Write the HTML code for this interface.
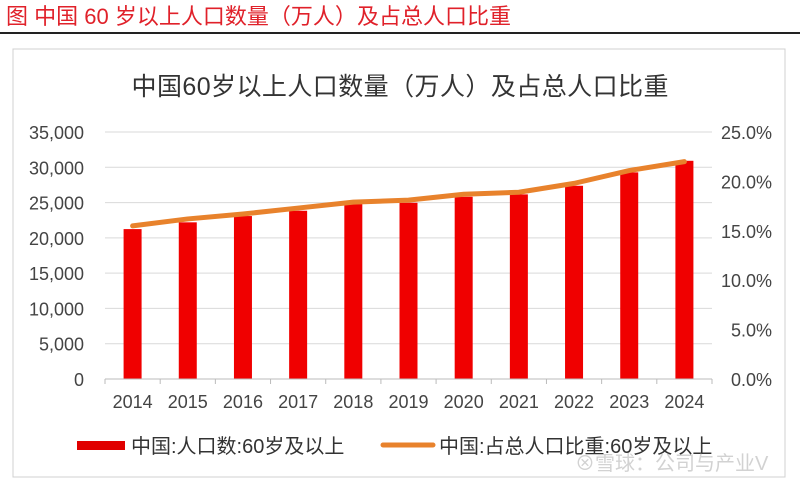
<!DOCTYPE html>
<html><head><meta charset="utf-8">
<style>
body{margin:0;width:800px;height:482px;background:#fff;overflow:hidden;font-family:"Liberation Sans","Noto Sans CJK SC",sans-serif;}
svg text{font-family:"Liberation Sans","Noto Sans CJK SC",sans-serif;}
</style></head><body>
<svg id="c" width="800" height="482" xmlns="http://www.w3.org/2000/svg">
<text x="6" y="24" font-size="22" fill="#e0212a" textLength="505">图  中国 60 岁以上人口数量（万人）及占总人口比重</text>
<line x1="0" y1="33" x2="800" y2="33" stroke="#222" stroke-width="2"/>
<rect x="13" y="49" width="772" height="428" fill="#fff" stroke="#d0d0d0"/>
<text x="400" y="95" font-size="25" fill="#333" text-anchor="middle" textLength="537">中国60岁以上人口数量（万人）及占总人口比重</text>
<g id="grid"></g><g id="bars"></g><g id="line"></g><g id="axes"></g>
<rect x="77" y="441" width="48" height="9" fill="#e00000"/>
<text x="131" y="453" font-size="20" fill="#333">中国:人口数:60岁及以上</text>
<line x1="383" y1="445" x2="433" y2="445" stroke="#e8822c" stroke-width="5" stroke-linecap="round"/>
<text x="439" y="453" font-size="20" fill="#333">中国:占总人口比重:60岁及以上</text>
<text x="575" y="470" font-size="20" fill="#c8c8c8" opacity="0.8">⊗雪球：公司与产业V</text>
</svg>
<script>
const categories=["2014","2015","2016","2017","2018","2019","2020","2021","2022","2023","2024"];
const population=[21240,22200,23090,23840,24790,24970,25820,26160,27380,29280,30920];
const share=[15.5,16.2,16.7,17.3,17.9,18.1,18.7,18.9,19.8,21.1,22.0];
const leftTicks=[0,5000,10000,15000,20000,25000,30000,35000];
const leftLabels=["0","5,000","10,000","15,000","20,000","25,000","30,000","35,000"];
const rightTicks=[0,5,10,15,20,25];
const rightLabels=["0.0%","5.0%","10.0%","15.0%","20.0%","25.0%"];
const NS="http://www.w3.org/2000/svg";
const x0=105,x1=712,yb=379,yt=132;
const bw=(x1-x0)/categories.length;
const xc=i=>x0+bw*(i+0.5);
const yL=v=>yb-(v/35000)*(yb-yt);
const yR=v=>yb-(v/25)*(yb-yt);
function mk(t,a,p){const e=document.createElementNS(NS,t);for(const k in a)e.setAttribute(k,a[k]);p.appendChild(e);return e;}
const g=document.getElementById('grid'),b=document.getElementById('bars'),l=document.getElementById('line'),ax=document.getElementById('axes');
leftTicks.forEach((v,i)=>{
  if(v>0){const ln=mk('line',{x1:x0,x2:x1,y1:yL(v),y2:yL(v),stroke:'#d9d9d9','stroke-width':1},g);
  
  }
  const t=mk('text',{x:84,y:yL(v)+7,'font-size':18,fill:'#444','text-anchor':'end'},ax);t.textContent=leftLabels[i];
  
  
});
rightTicks.forEach((v,i)=>{
  const t=mk('text',{x:772,y:yR(v)+7,'font-size':18,fill:'#444','text-anchor':'end'},ax);t.textContent=rightLabels[i];
  
  
});
const base=mk('line',{x1:x0,x2:x1,y1:yb,y2:yb,stroke:'#bbb'},ax);


for(let i=0;i<=categories.length;i++){const tk=mk('line',{x1:x0+bw*i,x2:x0+bw*i,y1:yb,y2:yb+5,stroke:'#bbb'},ax);

}
categories.forEach((c,i)=>{
  const r=mk('rect',{x:xc(i)-9,y:yL(population[i]),width:18,height:yb-yL(population[i]),fill:'#f00000'},b);
  
  
  const t=mk('text',{x:xc(i),y:408,'font-size':18,fill:'#444','text-anchor':'middle'},ax);t.textContent=c;
  
  
});
const pts=share.map((v,i)=>xc(i)+','+yR(v)).join(' ');
const pl=mk('polyline',{points:pts,fill:'none',stroke:'#e8822c','stroke-width':5,'stroke-linejoin':'round','stroke-linecap':'round'},l);


</script>
</body></html>
